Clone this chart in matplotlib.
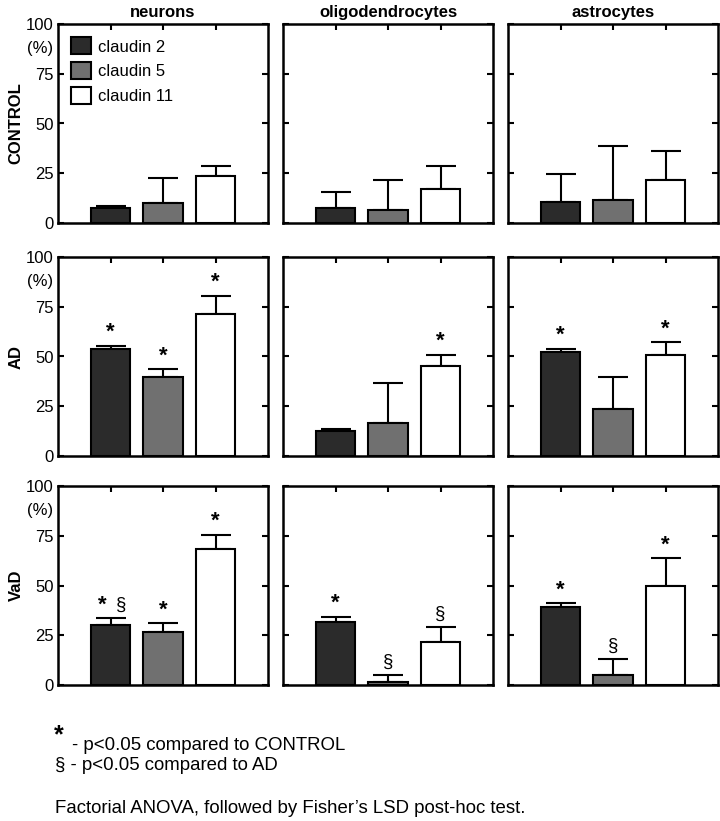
import matplotlib.pyplot as plt
import numpy as np

plt.rcParams['font.family'] = ['Liberation Sans', 'DejaVu Sans']

# data (percent)
cells = ['neurons', 'oligodendrocytes', 'astrocytes']
groups = ['CONTROL', 'AD', 'VaD']
claudins = ['claudin 2', 'claudin 5', 'claudin 11']

control_mean = [[7.5, 9.8, 23.8], [7.5, 6.5, 17.2], [10.4, 11.6, 21.8]]
control_err = [[1.0, 12.7, 5.0], [7.9, 15.3, 11.4], [14.3, 27.2, 14.3]]

ad_mean = [[54.0, 39.8, 71.5], [12.8, 16.7, 45.2], [52.2, 23.5, 50.6]]
ad_err = [[1.5, 3.7, 9.0], [0.6, 19.8, 5.8], [1.6, 16.0, 6.6]]

vad_mean = [[30.0, 26.8, 68.2], [31.6, 1.7, 21.8], [39.4, 4.9, 49.5]]
vad_err = [[3.6, 4.3, 7.2], [2.6, 3.3, 7.2], [1.6, 8.3, 14.2]]

# significance marks: '*' vs CONTROL, '§' vs AD
ad_marks = [['*', '*', '*'], ['', '', '*'], ['*', '', '*']]
vad_marks = [['*§', '*', '*'], ['*', '§', '§'], ['*', '§', '*']]

means = [control_mean, ad_mean, vad_mean]
errs = [control_err, ad_err, vad_err]
marks = [[['', '', '']] * 3, ad_marks, vad_marks]

bar_colors = ['#2b2b2b', '#707070', 'white']
x = np.array([1, 2, 3])

fig = plt.figure(figsize=(7.2, 8.21), dpi=100)

lefts = [58 / 720, 283 / 720, 508 / 720]
bottoms = [1 - 223 / 821, 1 - 456 / 821, 1 - 685 / 821]
w = 210 / 720
h = 199 / 821

for r in range(3):
    for c in range(3):
        ax = fig.add_axes([lefts[c], bottoms[r], w, h])
        for k in range(3):
            ax.bar(x[k], means[r][c][k], width=0.75, color=bar_colors[k],
                   edgecolor='black', linewidth=1.5, label=claudins[k], zorder=2)
            ax.errorbar(x[k], means[r][c][k], yerr=[[0], [errs[r][c][k]]],
                        fmt='none', ecolor='black', elinewidth=1.5,
                        capsize=11, capthick=1.5, zorder=1)
            m = marks[r][c][k]
            top = means[r][c][k] + errs[r][c][k]
            if m == '*§':
                ax.annotate('*', (x[k] - 0.15, top), xytext=(0, 2), textcoords='offset points',
                            ha='center', va='bottom', fontsize=16, fontweight='bold')
                ax.annotate('§', (x[k] + 0.2, top), xytext=(0, 3), textcoords='offset points',
                            ha='center', va='bottom', fontsize=13.5)
            elif m == '*':
                ax.annotate('*', (x[k], top), xytext=(0, 2), textcoords='offset points',
                            ha='center', va='bottom', fontsize=16, fontweight='bold')
            elif m == '§':
                ax.annotate('§', (x[k], top), xytext=(0, 3), textcoords='offset points',
                            ha='center', va='bottom', fontsize=13.5)

        ax.set_xlim(0, 4)
        ax.set_ylim(0, 100)
        ax.set_xticks(x)
        ax.set_xticklabels([])
        ax.set_yticks([0, 25, 50, 75, 100])
        ax.tick_params(direction='in', length=4, width=1.5, top=True, right=True,
                       labelsize=12, pad=3)
        if c > 0:
            ax.set_yticklabels([])
        else:
            ax.text(-0.025, 0.875, '(%)', transform=ax.transAxes, ha='right',
                    va='center', fontsize=12)
            ax.text(-0.2, 0.5, groups[r], transform=ax.transAxes, rotation=90,
                    ha='center', va='center', fontsize=12, fontweight='bold')
        for s in ax.spines.values():
            s.set_linewidth(1.8)
        if r == 0:
            ax.set_title(cells[c], fontsize=12, fontweight='bold', pad=5)
        if r == 0 and c == 0:
            ax.legend(loc='upper left', frameon=False, fontsize=12, handlelength=1.2,
                      handleheight=1.2, handletextpad=0.4, labelspacing=0.45,
                      borderaxespad=0.4)

# footnotes
note = dict(fontsize=13.4, ha='left', va='center')
fig.text(59 / 720, 1 - 735 / 821, '*', fontsize=18, fontweight='bold', ha='center', va='center')
fig.text(72 / 720, 1 - 746 / 821, '- p<0.05 compared to CONTROL', **note)
fig.text(55 / 720, 1 - 765 / 821, '§ - p<0.05 compared to AD', **note)
fig.text(55 / 720, 1 - 808 / 821, 'Factorial ANOVA, followed by Fisher\u2019s LSD post-hoc test.', **note)

fig.savefig('out.png', dpi=100)
